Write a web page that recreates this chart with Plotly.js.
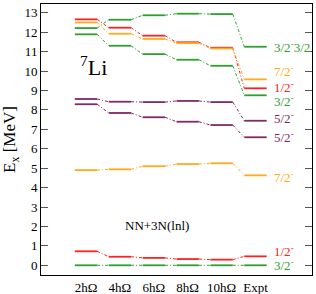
<!DOCTYPE html>
<html><head><meta charset="utf-8">
<script src="https://cdn.plot.ly/plotly-3.0.1.min.js"></script>
<style>html,body{margin:0;padding:0;background:#fff}#c{width:316px;height:294px}</style>
</head><body><div id="c"></div>
<script>
var columns = ["2h\u03A9","4h\u03A9","6h\u03A9","8h\u03A9","10h\u03A9","Expt"];
var gs32 = [0, 0, 0, 0, 0, 0];
var s12a = [0.72, 0.44, 0.38, 0.32, 0.29, 0.46];
var s72a = [4.90, 4.94, 5.10, 5.21, 5.25, 4.63];
var s52a = [8.29, 7.84, 7.62, 7.39, 7.22, 6.59];
var s52b = [8.56, 8.42, 8.40, 8.46, 8.40, 7.44];
var s32b = [11.89, 11.30, 10.87, 10.58, 10.27, 8.75];
var s12b = [12.66, 12.23, 11.82, 11.48, 11.20, 9.11];
var s72b = [12.50, 11.92, 11.65, 11.44, 11.16, 9.57];
var s32c = [12.21, 12.64, 12.87, 12.95, 12.93, 11.25];
var labels = ["3/2<sup>-</sup>","1/2<sup>-</sup>","7/2<sup>-</sup>","5/2<sup>-</sup>","5/2<sup>-</sup>","3/2<sup>-</sup>","1/2<sup>-</sup>","7/2<sup>-</sup>","3/2<sup>-</sup>3/2"];
var labelY = [0.0, 0.72, 4.53, 6.60, 7.56, 8.47, 9.2, 10.0, 11.25];

var GREEN = "#2f9f2f", RED = "#ff2020", ORANGE = "#ffaa1a", PURPLE = "#7f2a66";
var states = [
  {v: gs32, c: GREEN}, {v: s12a, c: RED}, {v: s72a, c: ORANGE},
  {v: s52a, c: PURPLE}, {v: s52b, c: PURPLE}, {v: s32b, c: GREEN},
  {v: s12b, c: RED}, {v: s72b, c: ORANGE}, {v: s32c, c: GREEN}
];
var h = 0.33;
var traces = [];
states.forEach(function(s){
  var sx = [], sy = [], cx = [], cy = [];
  for (var i = 0; i < s.v.length; i++) {
    sx.push(i - h, i + h, null); sy.push(s.v[i], s.v[i], null);
    if (i < s.v.length - 1) { cx.push(i + h, i + 1 - h, null); cy.push(s.v[i], s.v[i+1], null); }
  }
  traces.push({x: cx, y: cy, mode: "lines", line: {color: s.c, width: 1, dash: "3px,2px,1px,2px"}, hoverinfo: "skip", showlegend: false});
  traces.push({x: sx, y: sy, mode: "lines", line: {color: s.c, width: 1.8}, hoverinfo: "skip", showlegend: false});
});

var ann = [];
states.forEach(function(s, k){
  ann.push({x: 5.49, y: labelY[k], xref: "x", yref: "y", xanchor: "left", yanchor: "middle",
    text: labels[k], showarrow: false, font: {family: "Liberation Serif", size: 13, color: s.c}});
});
ann.push({x: -0.24, y: 10.26, xref: "x", yref: "y", xanchor: "left", yanchor: "middle",
  text: "<sup>7</sup>Li", showarrow: false, font: {family: "Liberation Serif", size: 22, color: "#000"}});
ann.push({x: 2.09, y: 2.07, xref: "x", yref: "y", xanchor: "center", yanchor: "middle",
  text: "NN+3N(lnl)", showarrow: false, font: {family: "Liberation Serif", size: 13, color: "#000"}});

var layout = {
  width: 316, height: 294,
  margin: {l: 41, r: 4, t: 4, b: 19},
  paper_bgcolor: "#fff", plot_bgcolor: "#fff",
  font: {family: "Liberation Serif", size: 13, color: "#000"},
  showlegend: false,
  xaxis: {range: [-1.327, 6.667], tickvals: [0,1,2,3,4,5], ticktext: columns, ticks: "",
    showgrid: false, zeroline: false, showline: true, linecolor: "#000", linewidth: 1, mirror: true,
    tickfont: {family: "Liberation Serif", size: 13}, fixedrange: true},
  yaxis: {range: [-0.5, 13.45], tickvals: [0,1,2,3,4,5,6,7,8,9,10,11,12,13], ticks: "inside", ticklen: 7,
    tickcolor: "#555", showgrid: false, zeroline: false, showline: true, linecolor: "#000", linewidth: 1,
    mirror: "ticks", tickfont: {family: "Liberation Serif", size: 13},
    title: {text: "E<sub>x</sub> [MeV]", font: {family: "Liberation Serif", size: 17}, standoff: 4}, fixedrange: true},
  annotations: ann
};
Plotly.newPlot("c", traces, layout, {staticPlot: true, displayModeBar: false});
</script></body></html>
